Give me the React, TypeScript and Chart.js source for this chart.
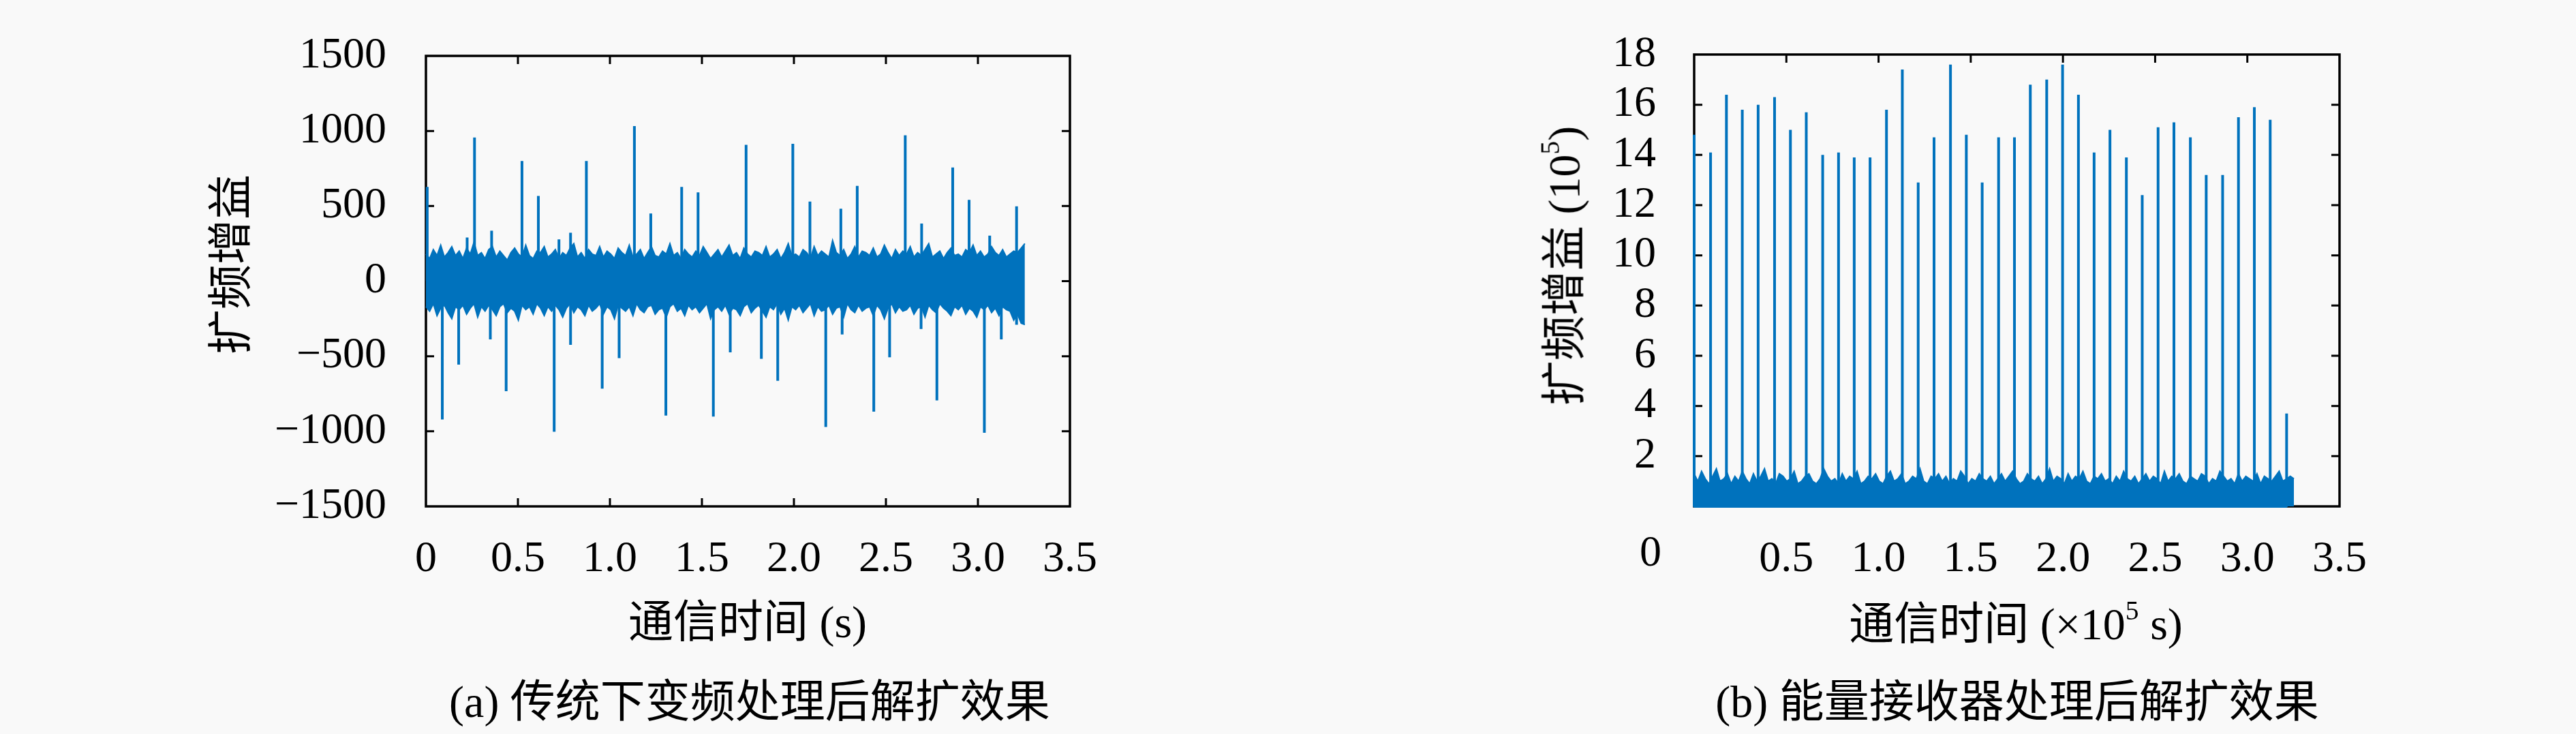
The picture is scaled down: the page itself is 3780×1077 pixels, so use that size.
import React, { useEffect, useRef } from "react";
import { Chart, registerables } from "chart.js";

Chart.register(...registerables);

// ---------------- data ----------------
// (a) conventional down-conversion: noise band envelope (sampled uniformly from 0 to NOISE_END_A)
const NOISE_END_A = 3.255;
const NOISE_UPPER_A = [
  180, 150, 210, 170, 240, 160, 190, 230, 170, 200,
  150, 220, 180, 260, 170, 190, 150, 210, 230, 160,
  200, 170, 140, 190, 220, 180, 160, 240, 170, 150,
  200, 190, 230, 160, 180, 210, 150, 190, 170, 220,
  250, 160, 190, 150, 210, 180, 170, 230, 160, 200,
  180, 150, 220, 190, 170, 240, 160, 180, 210, 150,
  190, 230, 170, 160, 200, 180, 250, 170, 190, 150,
  210, 180, 160, 200, 170, 230, 190, 150, 180, 210,
  160, 200, 240, 170, 190, 150, 220, 180, 160, 200,
  190, 170, 230, 160, 180, 210, 150, 190, 250, 170,
  180, 160, 210, 190, 150, 230, 170, 200, 180, 160,
  270, 190, 170, 210, 150, 180, 230, 160, 200, 190,
  170, 220, 160, 180, 240, 190, 150, 210, 170, 200,
  180, 230, 160, 190, 170, 210, 250, 160, 180, 200,
  150, 190, 220, 170, 180, 160, 210, 190, 240, 170,
  200, 160, 180, 230, 190, 170, 210, 160, 180, 200,
  190, 220, 250,
];
const NOISE_LOWER_A = [
  -170, -200, -150, -230, -180, -160, -210, -250, -170, -190,
  -160, -220, -180, -150, -240, -170, -200, -160, -190, -230,
  -170, -150, -210, -180, -200, -260, -160, -190, -170, -220,
  -150, -180, -230, -170, -200, -160, -190, -240, -180, -150,
  -210, -170, -190, -230, -160, -200, -180, -150, -220, -170,
  -190, -250, -160, -180, -200, -170, -230, -150, -190, -210,
  -170, -160, -220, -190, -180, -240, -170, -150, -200, -180,
  -230, -160, -190, -170, -210, -180, -150, -250, -190, -170,
  -200, -160, -220, -180, -190, -230, -170, -150, -210, -180,
  -160, -200, -240, -170, -190, -150, -220, -180, -260, -170,
  -190, -160, -210, -180, -150, -230, -170, -200, -190, -160,
  -220, -180, -170, -240, -150, -190, -210, -160, -200, -180,
  -170, -230, -160, -190, -250, -180, -150, -210, -170, -200,
  -190, -160, -220, -180, -170, -240, -160, -190, -210, -150,
  -180, -200, -230, -170, -190, -160, -220, -180, -200, -240,
  -170, -190, -160, -210, -180, -230, -170, -190, -200, -260,
  -220, -280, -290,
];
// (a) correlation spikes
const POS_SPIKE_T_A = [0.007, 0.224, 0.264, 0.357, 0.522, 0.611, 0.723, 0.786, 0.872, 1.133, 1.222, 1.39, 1.479, 1.74, 1.994, 2.087, 2.255, 2.344, 2.605, 2.694, 2.863, 2.952, 3.064, 3.21];
const POS_SPIKE_V_A = [628, 290, 956, 336, 800, 567, 278, 322, 800, 1033, 450, 628, 591, 908, 914, 530, 482, 634, 971, 383, 757, 541, 303, 498];
const NEG_SPIKE_T_A = [0.089, 0.178, 0.35, 0.436, 0.697, 0.786, 0.958, 1.05, 1.304, 1.562, 1.654, 1.823, 1.912, 2.173, 2.262, 2.434, 2.52, 2.691, 2.777, 3.035, 3.127, 3.21];
const NEG_SPIKE_V_A = [-921, -556, -388, -733, -1003, -424, -716, -513, -895, -902, -474, -517, -664, -971, -355, -869, -507, -319, -794, -1010, -388, -290];

// (b) energy receiver: floor level (×10^5), sampled uniformly from 0 to NOISE_END_B
const NOISE_END_B = 3.253;
const FLOOR_B = [
  1.3, 1.0, 1.4, 1.1, 0.9, 1.2, 1.5, 1.0, 1.1, 1.3,
  0.9, 1.2, 1.0, 1.4, 1.1, 0.9, 1.3, 1.0, 1.2, 1.5,
  1.0, 1.1, 0.9, 1.3, 1.2, 1.0, 1.1, 1.4, 0.9, 1.0,
  1.2, 1.3, 1.0, 0.9, 1.1, 1.5, 1.2, 1.0, 1.1, 0.9,
  1.3, 1.0, 1.2, 1.1, 1.4, 0.9, 1.0, 1.2, 1.1, 1.3,
  1.0, 0.9, 1.2, 1.4, 1.0, 1.1, 1.3, 0.9, 1.0, 1.2,
  1.1, 1.5, 1.0, 0.9, 1.2, 1.1, 1.3, 1.0, 1.2, 0.9,
  1.1, 1.0, 1.4, 1.2, 0.9, 1.1, 1.0, 1.3, 1.1, 1.0,
  1.2, 0.9, 1.1, 1.3, 1.0, 1.2, 1.4, 1.1, 0.9, 1.0,
  1.3, 1.1, 1.0, 1.2, 0.9, 1.1, 1.5, 1.0, 1.2, 1.1,
  0.9, 1.3, 1.0, 1.2, 1.1, 1.4, 1.0, 0.9, 1.2, 1.1,
  1.3, 1.0, 1.1, 0.9, 1.2, 1.0, 1.4, 1.1, 1.0, 1.2,
  0.9, 1.1, 1.3, 1.0, 1.2, 1.1, 0.9, 1.4, 1.0, 1.2,
  1.1, 1.3, 1.0, 0.9, 1.2, 1.1, 1.0, 1.3, 1.2, 0.9,
  1.1, 1.0, 1.4, 1.2, 1.0, 1.1, 0.9, 1.3, 1.0, 1.2,
  1.1, 1.0, 1.3, 0.9, 1.2, 1.1, 1.0, 1.2, 1.4, 1.0,
  1.1, 1.2, 1.1,
];
const SPIKE_T_B = [0.0, 0.089, 0.175, 0.261, 0.347, 0.436, 0.522, 0.608, 0.697, 0.783, 0.868, 0.954, 1.043, 1.129, 1.215, 1.301, 1.39, 1.476, 1.562, 1.651, 1.737, 1.823, 1.912, 1.998, 2.084, 2.169, 2.255, 2.344, 2.43, 2.516, 2.602, 2.691, 2.777, 2.866, 2.952, 3.038, 3.124, 3.213];
const SPIKE_V_B = [14.8, 14.1, 16.4, 15.8, 16.0, 16.3, 15.0, 15.7, 14.0, 14.1, 13.9, 13.9, 15.8, 17.4, 12.9, 14.7, 17.6, 14.8, 12.9, 14.7, 14.7, 16.8, 17.0, 17.6, 16.4, 14.1, 15.0, 13.9, 12.4, 15.1, 15.3, 14.7, 13.2, 13.2, 15.5, 15.9, 15.4, 3.7];

// axis ticks
const X_TICK_MARKS = [0.5, 1.0, 1.5, 2.0, 2.5, 3.0];
const Y_TICK_MARKS_A = [-1000, -500, 0, 500, 1000];
const Y_TICK_MARKS_B = [2, 4, 6, 8, 10, 12, 14, 16];

// ---------------- style ----------------
const BLUE = "#0072BD";
const BG = "#f9f9f9";
const FONT = "'Liberation Serif', 'Noto Sans CJK SC', serif";
const TICK_FONT_SIZE = 64;
const TEXT_SIZE = 66;
const W = 1890;
const H = 1077;

function series(values: number[], end: number) {
  const n = values.length;
  return values.map((v, i) => ({ x: (end * i) / (n - 1), y: v }));
}
function spikes(ts: number[], vs: number[]) {
  const out: { x: number; y: number }[] = [];
  ts.forEach((t, i) => {
    out.push({ x: t, y: 0 }, { x: t, y: vs[i] }, { x: t, y: 0 });
  });
  return out;
}

function framePlugin(xTicks: number[], yTicks: number[], zeroCorner: boolean) {
  return {
    id: "frame",
    beforeDatasetsDraw(chart: any) {
      const { ctx, chartArea, scales } = chart;
      const { left, right, top, bottom } = chartArea;
      ctx.save();
      ctx.strokeStyle = "#000";
      ctx.lineWidth = 3.5;
      ctx.strokeRect(left, top, right - left, bottom - top);
      ctx.lineWidth = 3;
      const TL = 12;
      ctx.beginPath();
      xTicks.forEach((t) => {
        const px = scales.x.getPixelForValue(t);
        ctx.moveTo(px, bottom);
        ctx.lineTo(px, bottom - TL);
        ctx.moveTo(px, top);
        ctx.lineTo(px, top + TL);
      });
      yTicks.forEach((t) => {
        const py = scales.y.getPixelForValue(t);
        ctx.moveTo(left, py);
        ctx.lineTo(left + TL, py);
        ctx.moveTo(right, py);
        ctx.lineTo(right - TL, py);
      });
      ctx.stroke();
      ctx.restore();
    },
    afterDraw(chart: any) {
      if (!zeroCorner) return;
      const { ctx, chartArea } = chart;
      ctx.save();
      ctx.fillStyle = "#000";
      ctx.font = `${TICK_FONT_SIZE}px ${FONT}`;
      ctx.textAlign = "right";
      ctx.textBaseline = "middle";
      ctx.fillText("0", chartArea.left - 48, chartArea.bottom + 38 + TICK_FONT_SIZE / 2);
      ctx.restore();
    },
  };
}

function tickFont() {
  return { family: FONT, size: TICK_FONT_SIZE, lineHeight: 1 };
}

function makeOptions(opts: {
  left: number;
  right: number;
  yMin: number;
  yMax: number;
  yStep: number;
  yPad: number;
  yLabel: (v: number) => string;
  xLabel: (v: number) => string;
}) {
  return {
    animation: false,
    responsive: false,
    devicePixelRatio: 1,
    layout: { padding: { left: 0, top: 33, right: W - opts.right, bottom: 0 } },
    plugins: { legend: { display: false }, tooltip: { enabled: false } },
    elements: { point: { radius: 0 }, line: { tension: 0 } },
    scales: {
      x: {
        type: "linear",
        min: 0,
        max: 3.5,
        afterFit: (s: any) => {
          s.height = H - 743;
        },
        grid: { display: false },
        border: { display: false },
        ticks: {
          stepSize: 0.5,
          autoSkip: false,
          maxRotation: 0,
          padding: 38,
          color: "#000",
          font: tickFont(),
          callback: (v: any) => opts.xLabel(Number(v)),
        },
      },
      y: {
        type: "linear",
        min: opts.yMin,
        max: opts.yMax,
        afterFit: (s: any) => {
          s.width = opts.left;
        },
        grid: { display: false },
        border: { display: false },
        ticks: {
          stepSize: opts.yStep,
          autoSkip: false,
          padding: opts.yPad,
          color: "#000",
          font: tickFont(),
          callback: (v: any) => opts.yLabel(Number(v)),
        },
      },
    },
  };
}

const lineStyle = {
  borderColor: BLUE,
  backgroundColor: BLUE,
  pointRadius: 0,
  clip: false,
};

function ChartA() {
  const ref = useRef<HTMLCanvasElement>(null);
  useEffect(() => {
    if (!ref.current) return;
    const chart = new Chart(ref.current, {
      type: "line",
      data: {
        datasets: [
          { ...lineStyle, data: series(NOISE_UPPER_A, NOISE_END_A), borderWidth: 2, fill: false },
          { ...lineStyle, data: series(NOISE_LOWER_A, NOISE_END_A), borderWidth: 2, fill: "-1" },
          { ...lineStyle, data: spikes(POS_SPIKE_T_A, POS_SPIKE_V_A), borderWidth: 4, borderJoinStyle: "bevel", fill: false },
          { ...lineStyle, data: spikes(NEG_SPIKE_T_A, NEG_SPIKE_V_A), borderWidth: 4, borderJoinStyle: "bevel", fill: false },
        ] as any,
      },
      options: makeOptions({
        left: 625,
        right: 1570,
        yMin: -1500,
        yMax: 1500,
        yStep: 500,
        yPad: 50,
        yLabel: (v) => (v < 0 ? "\u2212" + Math.abs(v) : String(v)),
        xLabel: (v) => (v === 0 ? "0" : v.toFixed(1)),
      }) as any,
      plugins: [framePlugin(X_TICK_MARKS, Y_TICK_MARKS_A, false)],
    });
    return () => chart.destroy();
  }, []);
  return <canvas ref={ref} width={W} height={H} style={{ position: "absolute", left: 0, top: 0, width: W, height: H }} />;
}

function ChartB() {
  const ref = useRef<HTMLCanvasElement>(null);
  useEffect(() => {
    if (!ref.current) return;
    const chart = new Chart(ref.current, {
      type: "line",
      data: {
        datasets: [
          { ...lineStyle, data: series(FLOOR_B, NOISE_END_B), borderWidth: 2, fill: "origin" },
          { ...lineStyle, data: spikes(SPIKE_T_B, SPIKE_V_B), borderWidth: 4, borderJoinStyle: "bevel", fill: false },
        ] as any,
      },
      options: makeOptions({
        left: 2486 - W,
        right: 3433 - W,
        yMin: 0,
        yMax: 18,
        yStep: 2,
        yPad: 48,
        yLabel: (v) => (v === 0 ? "" : String(v)),
        xLabel: (v) => (v === 0 ? "" : v.toFixed(1)),
      }) as any,
      plugins: [framePlugin(X_TICK_MARKS, Y_TICK_MARKS_B, true)],
    });
    return () => chart.destroy();
  }, []);
  return <canvas ref={ref} width={W} height={H} style={{ position: "absolute", left: W, top: 0, width: W, height: H }} />;
}

function Label(props: { x: number; y: number; rotate?: boolean; children: React.ReactNode }) {
  return (
    <div
      style={{
        position: "absolute",
        left: props.x,
        top: props.y,
        transform: `translate(-50%, -50%)${props.rotate ? " rotate(-90deg)" : ""}`,
        whiteSpace: "nowrap",
        fontFamily: FONT,
        fontSize: TEXT_SIZE,
        lineHeight: 1,
        color: "#000",
      }}
    >
      {props.children}
    </div>
  );
}

const sup = { fontSize: "0.6em", verticalAlign: "0.75em" } as React.CSSProperties;

export default function App() {
  useEffect(() => {
    document.body.style.margin = "0";
    document.body.style.background = BG;
  }, []);
  return (
    <div style={{ position: "absolute", left: 0, top: 0, width: 3780, height: 1077, background: BG, overflow: "hidden" }}>
      <ChartA />
      <ChartB />
      <Label x={339} y={388} rotate>
        扩频增益
      </Label>
      <Label x={2292} y={390} rotate>
        扩频增益 (10<span style={sup}>5</span>)
      </Label>
      <Label x={1097} y={913}>通信时间 (s)</Label>
      <Label x={2958} y={913}>
        通信时间 (×10<span style={sup}>5</span> s)
      </Label>
      <Label x={1100} y={1030}>(a) 传统下变频处理后解扩效果</Label>
      <Label x={2960} y={1030}>(b) 能量接收器处理后解扩效果</Label>
    </div>
  );
}
